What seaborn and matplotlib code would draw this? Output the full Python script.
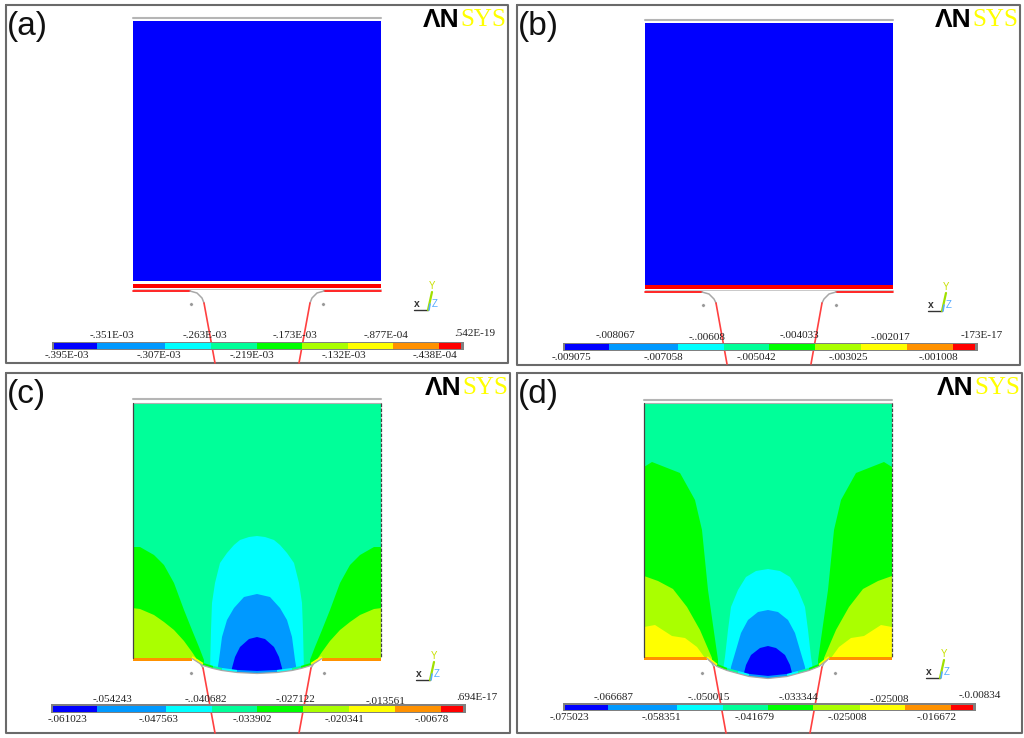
import matplotlib
matplotlib.use("Agg")
import matplotlib.pyplot as plt
import numpy as np
import seaborn as sns
from matplotlib.patches import Polygon

sns.set_theme(style="white")
plt.rcParams["font.family"] = ["Liberation Serif", "DejaVu Serif"]

# contour colours, low to high
BAND_COLORS = sns.color_palette(
    ["#0000FF", "#0099FF", "#00FFFF", "#00FF99", "#00FF00",
     "#AAFF00", "#FFFF00", "#FF9100", "#FF0000"]
)
BLUE, AZURE, CYAN, SPRING, GREEN, LIME, YELLOW, ORANGE, RED = BAND_COLORS

# legend tick labels
LABELS_A_TOP = ["-.351E-03", "-.263E-03", "-.173E-03", "-.877E-04", ".542E-19"]
LABELS_A_BOT = ["-.395E-03", "-.307E-03", "-.219E-03", "-.132E-03", "-.438E-04"]
LABELS_B_TOP = ["-.008067", "-..00608", "-.004033", "-.002017", "-173E-17"]
LABELS_B_BOT = ["-.009075", "-.007058", "-.005042", "-.003025", "-.001008"]
LABELS_C_TOP = ["-.054243", "-..040682", "-.027122", "-.013561", ".694E-17"]
LABELS_C_BOT = ["-.061023", "-.047563", "-.033902", "-.020341", "-.00678"]
LABELS_D_TOP = ["-.066687", "-..050015", "-.033344", "-.025008", "-.0.00834"]
LABELS_D_BOT = ["-.075023", "-.058351", "-.041679", "-.025008", "-.016672"]

# where those labels sit
TOP_X_A, TOP_Y_A = [112, 205, 295, 386, 475], [335, 336, 336, 336, 333]
BOT_X_A, BOT_Y_A = [67, 159, 252, 344, 435], 356
TOP_X_B, TOP_Y_B = [615, 707, 799, 890, 982], [335, 337, 336, 337, 335]
BOT_X_B, BOT_Y_B = [571, 663, 756, 848, 938], 357
TOP_X_C, TOP_Y_C = [112, 206, 295, 386, 477], [699, 700, 700, 701, 698]
BOT_X_C, BOT_Y_C = [67, 159, 252, 344, 432], 720
TOP_X_D, TOP_Y_D = [614, 709, 798, 889, 980], [697, 698, 698, 699, 696]
BOT_X_D, BOT_Y_D = [569, 661, 755, 847, 937], 718

# legend band edges
EDGES_A = [54, 97, 165, 211, 257, 302, 348, 393, 439, 461]
EDGES_B = [565, 609, 678, 724, 769, 815, 861, 907, 953, 975]
EDGES_C = [53, 97, 166, 212, 257, 303, 349, 395, 441, 463]
EDGES_D = [565, 608, 677, 723, 768, 813, 860, 905, 951, 973]

# contours: distance from the plate centre line, height in the picture
C_GREEN_DX = [125, 117, 103, 93, 83, 73, 65, 58, 53]
C_GREEN_Y = [547, 547, 555, 565, 583, 610, 630, 647, 660]
C_LIME_DX = [125, 117, 103, 93, 83, 73, 65, 61]
C_LIME_Y = [608, 609, 615, 622, 630, 641, 652, 658]
C_CYAN_DX = [0, 8, 17, 23, 30, 37, 42, 45, 46, 47]
C_CYAN_Y = [536, 537, 540, 545, 553, 563, 583, 603, 630, 672]
C_AZURE_DX = [0, 13, 23, 30, 35, 38, 40]
C_AZURE_Y = [594, 597, 608, 620, 637, 660, 672]
C_BLUE_DX = [0, 8, 17, 22, 25, 26]
C_BLUE_Y = [637, 639, 647, 657, 668, 674]
C_BOWL_DX = [65, 54, 44, 35, 20, 0]
C_BOWL_Y = [658, 665, 668, 670, 672, 673]

D_GREEN_DX = [124, 116, 88, 73, 66, 60, 50]
D_GREEN_Y = [467, 462, 473, 500, 530, 590, 660]
D_LIME_DX = [124, 110, 95, 81, 68, 56]
D_LIME_Y = [576, 581, 589, 607, 630, 658]
D_YELLOW_DX = [124, 113, 96, 83, 71, 63]
D_YELLOW_Y = [627, 625, 636, 638, 647, 658]
D_CYAN_DX = [0, 12, 22, 30, 37, 40, 43, 45]
D_CYAN_Y = [569, 571, 577, 590, 607, 630, 657, 670]
D_AZURE_DX = [0, 10, 20, 27, 32, 37, 38]
D_AZURE_Y = [610, 612, 620, 633, 650, 667, 675]
D_BLUE_DX = [0, 8, 17, 22, 24, 25]
D_BLUE_Y = [646, 648, 655, 665, 673, 678]
D_BOWL_DX = [61, 51, 41, 30, 19, 0]
D_BOWL_Y = [658, 666, 670, 673, 676, 678]

BOWL_BANDS = [YELLOW, GREEN, SPRING, CYAN, AZURE]

fig = plt.figure(figsize=(10.24, 7.38), dpi=100)
ax = fig.add_axes([0, 0, 1, 1])
ax.set_xlim(0, 1024)
ax.set_ylim(738, 0)
ax.axis("off")
ax.autoscale(False)


def frame(x0, y0, x1, y1, letter, logo_right):
    ax.plot([x0, x1, x1, x0, x0], [y0, y0, y1, y1, y0], color="#6a6a6a", lw=1.5)
    ax.text(x0 + 0.5, y0 + 21, letter, family=["Liberation Sans"], fontsize=24,
            color="#111111", ha="left", va="center")
    # the product mark in the corner
    ax.text(logo_right - 83, y0 + 15, "ΛN", family=["Liberation Sans"], fontweight="bold",
            fontsize=19, color="black", ha="left", va="center")
    ax.text(logo_right, y0 + 15, "SYS", fontsize=18, color="#FFFF00", ha="right", va="center")


def legend(edges, y0, y1, top, top_x, top_y, bot, bot_x, bot_y):
    ax.barh((y0 + y1) / 2, edges[-1] - edges[0] + 5, height=y1 - y0 + 3.4,
            left=edges[0] - 2.5, color="#808080", edgecolor="none", zorder=4)
    left = np.array(edges[:-1])
    ax.barh([(y0 + y1) / 2] * 9, np.diff(edges), height=y1 - y0, left=left,
            color=BAND_COLORS, edgecolor="none", zorder=5)
    for lab, x, y in zip(top, top_x, top_y):
        ax.text(x, y, lab, fontsize=8, color="#222222", ha="center", va="center", zorder=7)
    for lab, x in zip(bot, bot_x):
        ax.text(x, bot_y, lab, fontsize=8, color="#222222", ha="center", va="center", zorder=7)


def triad(x, y):
    ax.plot([x - 14, x], [y, y], color="#333333", lw=1)
    ax.plot([x, x + 4], [y, y - 18], color="#A0E000", lw=1.6)
    ax.plot([x + 1, x + 2], [y, y - 6], color="#55AAFF", lw=1.2)
    ax.text(x - 11, y - 6, "x", family=["Liberation Sans"], fontsize=7.5,
            fontweight="bold", color="#333333", ha="center", va="center")
    ax.text(x + 4, y - 24, "Y", family=["Liberation Sans"], fontsize=7,
            color="#C8E000", ha="center", va="center")
    ax.text(x + 7, y - 6, "Z", family=["Liberation Sans"], fontsize=7,
            color="#55AAFF", ha="center", va="center")


def rails(cx, y_top, x_arc, arc_dx, arc_y, foot_dx, y_foot):
    for side in (-1, 1):
        if x_arc is not None:
            sns.lineplot(x=[cx + side * x_arc[0], cx + side * x_arc[1]], y=[y_top, y_top],
                         color=RED, lw=1.2, ax=ax, legend=False, sort=False, estimator=None)
        xs = [cx + side * d for d in arc_dx]
        ax.plot(xs, arc_y, color="#a8a8a8", lw=1.1)
        sns.lineplot(x=[xs[-1], cx + side * foot_dx], y=[arc_y[-1], y_foot], color="#FF4040",
                     lw=1.2, ax=ax, legend=False, sort=False, estimator=None)


def flat_plate(x0, x1, y_gray, y0, y1, red_y0, red_y1):
    ax.plot([x0, x1], [y_gray, y_gray], color="#b5b5b5", lw=1.5)
    ax.fill([x0, x1, x1, x0], [y0, y0, y1, y1], color=BLUE, lw=0)
    ax.fill([x0, x1, x1, x0], [red_y0, red_y0, red_y1, red_y1], color=RED, lw=0)
    ax.plot([x0, x1], [red_y1 + 0.7, red_y1 + 0.7], color="#c0c0c0", lw=0.6)


def side_fill(cx, half, dx, ys, color, clip, bottom):
    for side in (-1, 1):
        xs = [cx + side * d for d in dx] + [cx + side * dx[-1], cx + side * half]
        yy = list(ys) + [bottom, bottom]
        poly = ax.fill(xs, yy, color=color, lw=0)[0]
        poly.set_clip_path(clip)


def arch_fill(cx, dx, ys, color, clip):
    xs = [cx - d for d in dx[::-1]] + [cx + d for d in dx[1:]]
    yy = list(ys[::-1]) + list(ys[1:])
    poly = ax.fill(xs, yy, color=color, lw=0)[0]
    poly.set_clip_path(clip)


def bent_plate(cx, half, y_gray, y0, y_strip, bowl_dx, bowl_y, sides, arches):
    bowl_x = [cx - d for d in bowl_dx] + [cx + d for d in bowl_dx[-2::-1]]
    bowl_yy = list(bowl_y) + list(bowl_y[-2::-1])
    outline = Polygon(
        list(zip([cx - half, cx + half, cx + half], [y0, y0, y_strip]))
        + list(zip(bowl_x[::-1], bowl_yy[::-1]))
        + [(cx - half, y_strip)],
        closed=True, transform=ax.transData, facecolor=SPRING, edgecolor="none",
    )
    ax.add_patch(outline)
    ax.plot([cx - half, cx + half], [y_gray, y_gray], color="#b5b5b5", lw=1.5)
    ax.plot([cx - half, cx + half], [y0, y0], color="#b0b0b0", lw=0.8)
    for dx, ys, col in sides:
        side_fill(cx, half, dx, ys, col, outline, y_strip + 30)
    for dx, ys, col in arches:
        arch_fill(cx, dx, ys, col, outline)
    # end strip and thin coloured skin along the dished edge
    for a, b in ((cx - half, cx - bowl_dx[0]), (cx + bowl_dx[0], cx + half)):
        ax.fill([a, b, b, a], [y_strip, y_strip, y_strip + 3, y_strip + 3], color=ORANGE, lw=0)
    for side in (-1, 1):
        for i, col in enumerate(BOWL_BANDS):
            ax.plot([cx + side * bowl_dx[i], cx + side * bowl_dx[i + 1]],
                    [bowl_y[i] - 0.8, bowl_y[i + 1] - 0.8], color=col, lw=1.8,
                    solid_capstyle="butt")
    ax.plot(bowl_x, [v + 0.5 for v in bowl_yy], color="#a8a8a8", lw=0.9)
    ax.plot([cx - half, cx - half], [y0, y_strip], color="#444444", lw=0.9)
    ax.plot([cx + half, cx + half], [y0, y_strip], color="#444444", lw=0.9, ls=(0, (3, 1)))


# (a)
frame(6, 5, 508, 363, "(a)", 506)
flat_plate(133, 381, 18, 21, 281, 284, 288)
rails(257, 291, (124, 67), [67, 60, 55, 53], [291, 293, 298, 303], 42, 363)
sns.scatterplot(x=[191, 323], y=[304, 304], color="#999999", s=6, ax=ax, legend=False)
triad(428, 310)
legend(EDGES_A, 343.4, 348.6, LABELS_A_TOP, TOP_X_A, TOP_Y_A, LABELS_A_BOT, BOT_X_A, BOT_Y_A)

# (b)
frame(517, 5, 1020, 365, "(b)", 1018)
flat_plate(645, 893, 20, 23, 285, 285, 289)
rails(769, 292, (124, 67), [67, 60, 55, 53], [292, 294, 299, 303], 42, 364)
sns.scatterplot(x=[703, 836], y=[305, 305], color="#999999", s=6, ax=ax, legend=False)
triad(942, 311)
legend(EDGES_B, 344.4, 349.6, LABELS_B_TOP, TOP_X_B, TOP_Y_B, LABELS_B_BOT, BOT_X_B, BOT_Y_B)

# (c)
frame(6, 373, 510, 733, "(c)", 508)
rails(257, 658, None, [61, 57, 54], [660, 663, 668], 42, 733)
sns.scatterplot(x=[191, 324], y=[673, 673], color="#999999", s=6, ax=ax, legend=False)
bent_plate(257, 124, 399, 403, 658, C_BOWL_DX, C_BOWL_Y,
           [(C_GREEN_DX, C_GREEN_Y, GREEN), (C_LIME_DX, C_LIME_Y, LIME)],
           [(C_CYAN_DX, C_CYAN_Y, CYAN), (C_AZURE_DX, C_AZURE_Y, AZURE), (C_BLUE_DX, C_BLUE_Y, BLUE)])
triad(430, 680)
legend(EDGES_C, 706, 711.5, LABELS_C_TOP, TOP_X_C, TOP_Y_C, LABELS_C_BOT, BOT_X_C, BOT_Y_C)

# (d)
frame(517, 373, 1022, 733, "(d)", 1020)
rails(768, 658, None, [59, 56, 54], [660, 663, 667], 42, 733)
sns.scatterplot(x=[702, 835], y=[673, 673], color="#999999", s=6, ax=ax, legend=False)
bent_plate(768, 124, 400, 403, 657, D_BOWL_DX, D_BOWL_Y,
           [(D_GREEN_DX, D_GREEN_Y, GREEN), (D_LIME_DX, D_LIME_Y, LIME), (D_YELLOW_DX, D_YELLOW_Y, YELLOW)],
           [(D_CYAN_DX, D_CYAN_Y, CYAN), (D_AZURE_DX, D_AZURE_Y, AZURE), (D_BLUE_DX, D_BLUE_Y, BLUE)])
triad(940, 678)
legend(EDGES_D, 704.5, 709.8, LABELS_D_TOP, TOP_X_D, TOP_Y_D, LABELS_D_BOT, BOT_X_D, BOT_Y_D)

ax.set_xlim(0, 1024)
ax.set_ylim(738, 0)
fig.savefig("out.png", dpi=100, facecolor="white")
